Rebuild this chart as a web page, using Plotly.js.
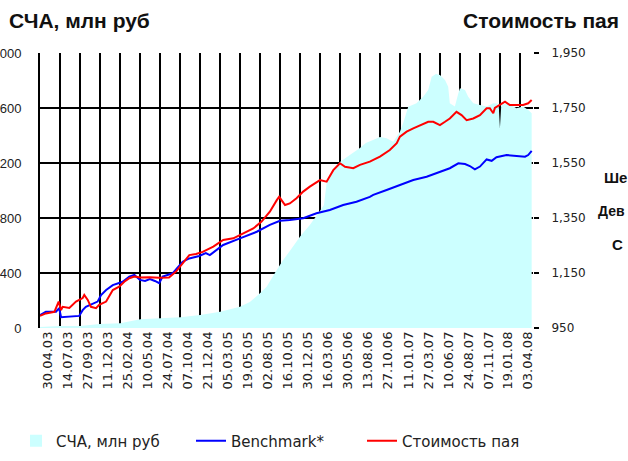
<!DOCTYPE html>
<html>
<head>
<meta charset="utf-8">
<script src="https://cdn.plot.ly/plotly-3.0.1.min.js"></script>
<style>
html, body { margin: 0; padding: 0; background: #fff; overflow: hidden; }
#chart { width: 628px; height: 461px; }
</style>
</head>
<body>
<div id="chart"></div>
<script>
// ---- Data ----
const tickDates = ['2003-04-30','2003-07-14','2003-09-27','2003-12-11','2004-02-25','2004-05-10','2004-07-24','2004-10-07','2004-12-21','2005-03-05','2005-05-19','2005-08-02','2005-10-16','2005-12-30','2006-03-16','2006-05-30','2006-08-13','2006-10-27','2007-01-11','2007-03-27','2007-06-10','2007-08-24','2007-11-07','2008-01-19','2008-04-03'];
const tickLabels = ['30.04.03','14.07.03','27.09.03','11.12.03','25.02.04','10.05.04','24.07.04','07.10.04','21.12.04','05.03.05','19.05.05','02.08.05','16.10.05','30.12.05','16.03.06','30.05.06','13.08.06','27.10.06','11.01.07','27.03.07','10.06.07','24.08.07','07.11.07','19.01.08','03.04.08'];

const leftTickVals = [0, 400, 800, 1200, 1600, 2000];
const leftTickText = ['0', '400', '800', '1 200', '1 600', '2 000'];
const rightTickVals = [950, 1150, 1350, 1550, 1750, 1950];
const rightTickText = ['950', '1,150', '1,350', '1,550', '1,750', '1,950'];

// СЧА, млн руб (left axis)
const navAssetDates = ['2003-04-30','2003-07-14','2003-09-27','2003-12-11','2004-02-25','2004-05-10','2004-07-24','2004-10-07','2004-12-21','2005-03-06','2005-05-19','2005-06-25','2005-08-02','2005-08-27','2005-10-04','2005-10-28','2005-11-22','2006-01-01','2006-02-05','2006-03-15','2006-03-30','2006-04-09','2006-05-03','2006-05-29','2006-07-05','2006-08-12','2006-09-03','2006-09-30','2006-10-26','2006-11-20','2006-12-02','2006-12-15','2007-01-09','2007-01-21','2007-02-09','2007-03-12','2007-04-06','2007-04-25','2007-05-08','2007-05-24','2007-06-08','2007-06-27','2007-07-09','2007-07-15','2007-08-03','2007-08-16','2007-08-22','2007-09-10','2007-09-22','2007-10-11','2007-11-05','2007-11-30','2007-12-25','2008-01-14','2008-01-19','2008-01-24','2008-02-19','2008-03-21','2008-04-15','2008-05-04','2008-05-17'];
const navAssetValues = [7,15,15,29,34,63,71,78,95,119,155,189,252,300,422,495,560,669,749,851,895,1055,1135,1207,1258,1309,1345,1367,1389,1380,1367,1355,1428,1489,1609,1634,1682,1731,1828,1847,1840,1804,1755,1634,1610,1707,1743,1731,1682,1634,1622,1610,1634,1630,1455,1625,1634,1598,1610,1586,1562];

// Benchmark* (right axis)
const benchDates = ['2003-04-30','2003-05-22','2003-06-29','2003-07-11','2003-07-18','2003-09-24','2003-10-07','2003-10-19','2003-12-02','2003-12-15','2004-01-03','2004-01-28','2004-03-05','2004-03-30','2004-04-18','2004-05-09','2004-05-28','2004-06-15','2004-07-04','2004-07-20','2004-08-02','2004-09-09','2004-10-16','2004-11-10','2004-12-17','2005-01-11','2005-01-26','2005-03-17','2005-05-19','2005-07-21','2005-09-08','2005-10-16','2005-11-22','2006-01-11','2006-03-02','2006-04-21','2006-06-10','2006-07-30','2006-09-18','2006-10-01','2006-11-20','2007-01-09','2007-02-28','2007-04-19','2007-06-08','2007-07-15','2007-08-16','2007-09-10','2007-09-28','2007-10-17','2007-11-05','2007-11-30','2007-12-19','2008-01-06','2008-02-13','2008-03-21','2008-04-22','2008-05-04','2008-05-17'];
const benchValues = [997,1009,1009,1022,989,994,1015,1027,1046,1070,1088,1106,1118,1137,1143,1125,1121,1128,1121,1113,1137,1149,1191,1203,1212,1222,1215,1252,1276,1300,1325,1340,1343,1349,1367,1379,1397,1409,1427,1434,1452,1470,1488,1500,1518,1531,1549,1546,1539,1527,1537,1563,1558,1571,1579,1577,1573,1579,1594];

// Стоимость пая (right axis)
const unitDates = ['2003-04-30','2003-05-22','2003-06-23','2003-07-09','2003-07-18','2003-07-24','2003-08-18','2003-09-12','2003-10-07','2003-10-13','2003-10-26','2003-11-07','2003-11-26','2003-12-08','2004-01-03','2004-01-28','2004-02-21','2004-03-11','2004-03-30','2004-04-18','2004-05-10','2004-06-15','2004-07-20','2004-08-26','2004-09-21','2004-10-16','2004-11-10','2004-12-05','2004-12-30','2005-02-08','2005-03-17','2005-04-24','2005-05-31','2005-07-08','2005-08-08','2005-09-08','2005-10-04','2005-10-13','2005-11-04','2005-11-22','2005-12-17','2006-01-11','2006-02-05','2006-02-24','2006-03-15','2006-04-09','2006-05-04','2006-05-29','2006-06-17','2006-07-18','2006-08-12','2006-09-18','2006-10-26','2006-12-02','2006-12-28','2007-01-09','2007-02-03','2007-02-28','2007-03-25','2007-04-25','2007-05-14','2007-06-08','2007-06-27','2007-07-15','2007-08-09','2007-08-28','2007-09-16','2007-10-11','2007-11-05','2007-11-30','2007-12-12','2007-12-25','2007-12-31','2008-01-19','2008-02-07','2008-02-25','2008-03-21','2008-04-15','2008-05-04','2008-05-17'];
const unitValues = [994,1003,1009,1046,1015,1027,1023,1046,1059,1070,1052,1027,1022,1034,1046,1088,1100,1118,1131,1137,1134,1135,1133,1134,1155,1185,1215,1219,1227,1246,1270,1276,1294,1312,1337,1373,1415,1427,1397,1403,1422,1446,1464,1476,1488,1482,1524,1549,1536,1531,1543,1555,1573,1597,1622,1646,1664,1676,1688,1700,1700,1688,1700,1712,1736,1724,1706,1712,1724,1749,1749,1731,1750,1761,1773,1761,1761,1761,1767,1779];

const seriesNames = ['СЧА, млн руб', 'Benchmark*', 'Стоимость пая'];

// ---- Chart ----
const traces = [
  { type: 'scatter', x: navAssetDates, y: navAssetValues, yaxis: 'y', mode: 'none',
    fill: 'tozeroy', fillcolor: '#ccffff', showlegend: false, hoverinfo: 'skip' },
  { type: 'bar', x: [null], y: [null], name: seriesNames[0], marker: { color: '#ccffff' },
    yaxis: 'y', showlegend: true, legend: 'legend' },
  { type: 'scatter', x: benchDates, y: benchValues, yaxis: 'y2', mode: 'lines', name: seriesNames[1],
    line: { color: '#0000ff', width: 2 }, legend: 'legend2' },
  { type: 'scatter', x: unitDates, y: unitValues, yaxis: 'y2', mode: 'lines', name: seriesNames[2],
    line: { color: '#ff0000', width: 2 }, legend: 'legend3' }
];

const PL = 40, PR = 533, PT = 53, PB = 328;
const W = 628, H = 461;
const px2x = p => (p - PL) / (PR - PL);
const px2y = p => (PB - p) / (PB - PT);

const legendBase = x => ({
  orientation: 'h', xref: 'container', yref: 'container',
  x: x / W, xanchor: 'left', y: 1 - 441 / H, yanchor: 'middle',
  font: { family: 'DejaVu Sans, sans-serif', size: 15, color: '#222' },
  bgcolor: 'rgba(0,0,0,0)'
});

const layout = {
  width: W, height: H,
  margin: { l: PL, r: W - PR, t: PT, b: H - PB, pad: 0, autoexpand: false },
  paper_bgcolor: '#ffffff', plot_bgcolor: '#ffffff',
  showlegend: true,
  font: { family: 'DejaVu Sans, sans-serif', size: 11, color: '#222' },
  xaxis: {
    type: 'date', range: ['2003-04-30', '2008-05-22'], automargin: false,
    tickmode: 'array', tickvals: tickDates, ticktext: tickLabels,
    tickangle: -90, ticks: '', showgrid: true, gridcolor: '#000', gridwidth: 2,
    zeroline: false, showline: false, ticklabelshift: 8,
    tickfont: { family: 'DejaVu Sans, sans-serif', size: 13, color: '#222' }
  },
  yaxis: {
    range: [0, 2000], tickmode: 'array', tickvals: leftTickVals, ticktext: leftTickText,
    showgrid: true, gridcolor: '#000', gridwidth: 2, zeroline: false, automargin: false,
    showline: true, linecolor: '#000', linewidth: 2, ticks: '',
    ticklabelstandoff: 14,
    tickfont: { family: 'Liberation Sans, Arial, sans-serif', size: 13, color: '#222' }
  },
  yaxis2: {
    overlaying: 'y', side: 'right', range: [950, 1950], automargin: false,
    tickmode: 'array', tickvals: rightTickVals, ticktext: rightTickText,
    showgrid: false, zeroline: false, showline: false,
    ticks: 'outside', ticklen: 5, tickwidth: 2, tickcolor: '#000',
    ticklabelstandoff: 10,
    tickfont: { family: 'DejaVu Sans, sans-serif', size: 12, color: '#222' }
  },
  legend: legendBase(16),
  legend2: legendBase(191),
  legend3: legendBase(362),
  annotations: [
    { text: '<b>СЧА, млн руб</b>', xref: 'paper', yref: 'paper', x: px2x(7), y: px2y(21),
      xanchor: 'left', yanchor: 'middle', showarrow: false,
      font: { family: 'Liberation Sans, Arial, sans-serif', size: 21, color: '#111' } },
    { text: '<b>Стоимость пая</b>', xref: 'paper', yref: 'paper', x: px2x(621), y: px2y(21),
      xanchor: 'right', yanchor: 'middle', showarrow: false,
      font: { family: 'Liberation Sans, Arial, sans-serif', size: 21, color: '#111' } },
    { text: '<b>Ше</b>', xref: 'paper', yref: 'paper', x: px2x(602), y: px2y(177),
      xanchor: 'left', yanchor: 'middle', showarrow: false,
      font: { family: 'Liberation Sans, Arial, sans-serif', size: 15, color: '#111' } },
    { text: '<b>Дев</b>', xref: 'paper', yref: 'paper', x: px2x(596), y: px2y(211),
      xanchor: 'left', yanchor: 'middle', showarrow: false,
      font: { family: 'Liberation Sans, Arial, sans-serif', size: 14, color: '#111' } },
    { text: '<b>С</b>', xref: 'paper', yref: 'paper', x: px2x(610), y: px2y(244),
      xanchor: 'left', yanchor: 'middle', showarrow: false,
      font: { family: 'Liberation Sans, Arial, sans-serif', size: 15, color: '#111' } }
  ]
};

Plotly.newPlot('chart', traces, layout, { displayModeBar: false, staticPlot: true });
</script>
</body>
</html>
